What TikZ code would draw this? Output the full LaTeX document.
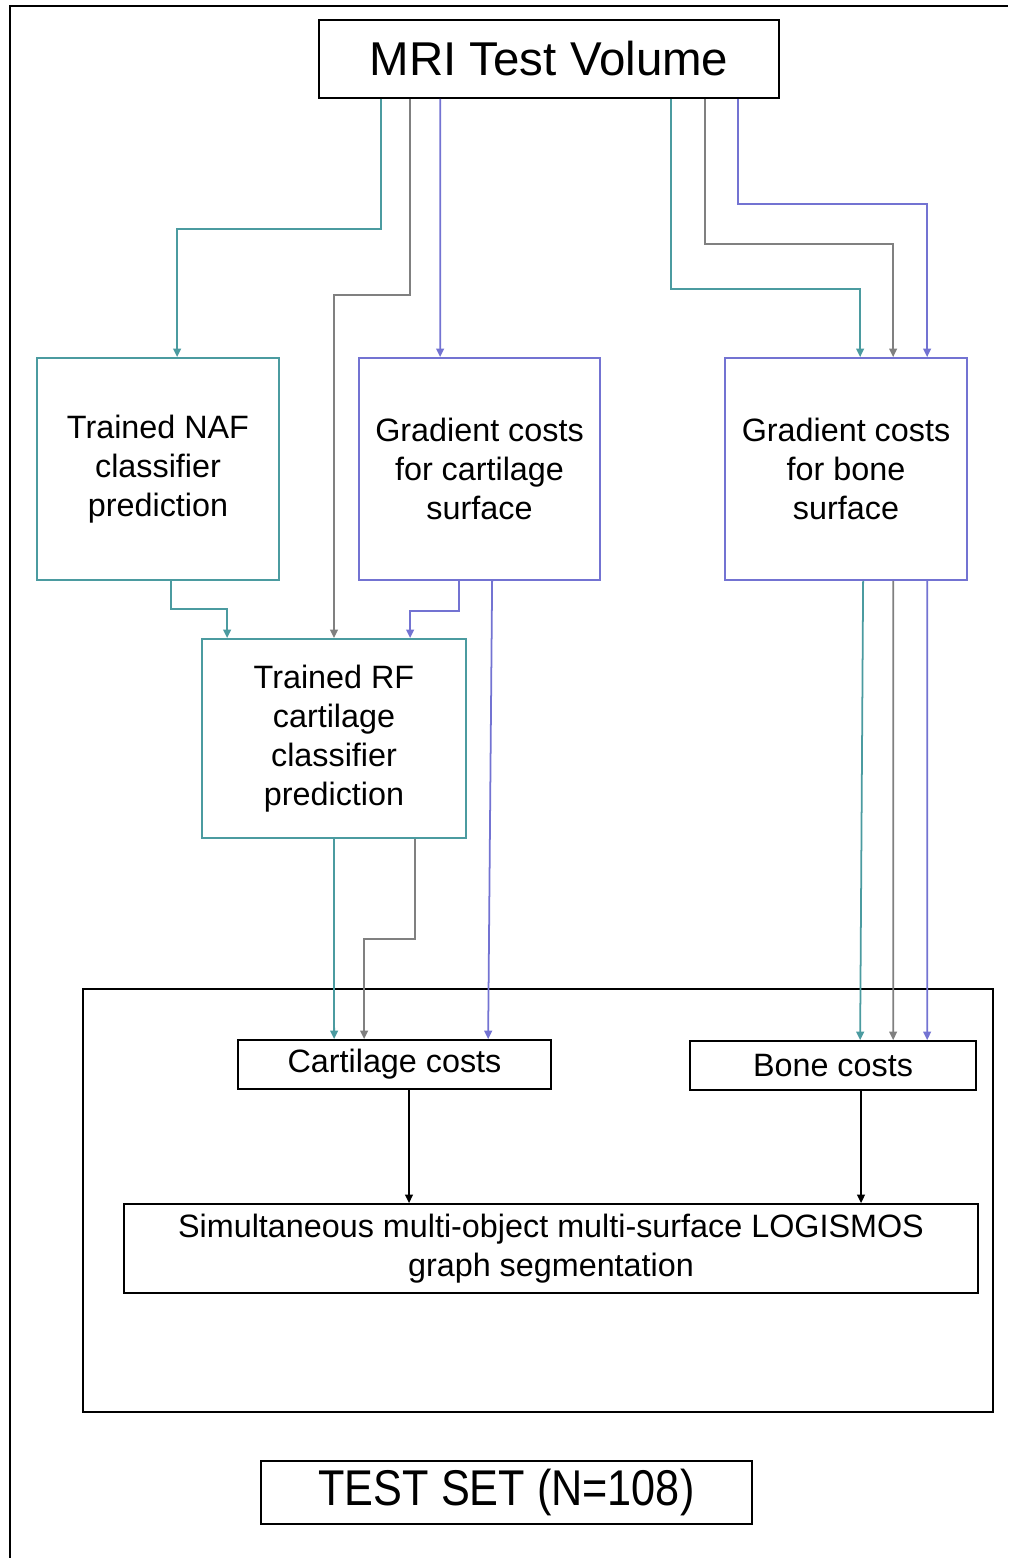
\documentclass[tikz,border=0pt]{standalone}
\usepackage{fontspec}
\setmainfont{Liberation Sans}
\usetikzlibrary{arrows.meta}
\definecolor{tealc}{RGB}{75,155,160}
\definecolor{greyc}{RGB}{128,128,128}
\definecolor{violc}{RGB}{115,115,210}
\begin{document}
\begin{tikzpicture}[x=0.1mm, y=-0.1mm,
    box/.style={draw, line width=0.5pt, inner sep=0pt, align=center,
        font=\fontsize{9.2}{11.1}\selectfont},
    link/.style={line width=0.5pt, -{Triangle[width=2.2pt,length=2.4pt]}}]
    \useasboundingbox (0,0) rectangle (1008,1558);
    % frames
    \draw[line width=0.5pt] (10,1558) -- (10,6) -- (1008,6);
    \draw[line width=0.5pt] (83,989) rectangle (993,1412);

    % boxes
    \node[box, minimum width=46mm, minimum height=7.8mm, font=\fontsize{13.5}{16}\selectfont] (mri) at (549,59) {MRI Test Volume};
    \node[box, draw=tealc, minimum width=24.2mm, minimum height=22.2mm] (naf) at (158,469) {Trained NAF\\classifier\\prediction};
    \node[box, draw=violc, minimum width=24.1mm, minimum height=22.2mm] (gcart) at (479.5,469) {Gradient costs\\for cartilage\\surface};
    \node[box, draw=violc, minimum width=24.2mm, minimum height=22.2mm] (gbone) at (846,469) {Gradient costs\\for bone\\surface};
    \node[box, draw=tealc, minimum width=26.4mm, minimum height=19.9mm] (rf) at (334,738.5) {Trained RF\\cartilage\\classifier\\prediction};
    \node[box, minimum width=31.3mm, minimum height=4.9mm] (ccost) at (394.5,1064.5) {Cartilage costs};
    \node[box, minimum width=28.6mm, minimum height=4.9mm] (bcost) at (833,1065.5) {Bone costs};
    \node[box, minimum width=85.4mm, minimum height=8.9mm] (logis) at (551,1248.5) {Simultaneous multi-object multi-surface LOGISMOS\\graph segmentation};
    \node[box, minimum width=49.1mm, minimum height=6.3mm, font=\fontsize{14.3}{17}\selectfont] (test) at (506.5,1492.5) {\scalebox{0.86}[1]{TEST SET (N=108)}};

    % from the volume
    \draw[link, tealc] ([xshift=6.3mm]mri.south west) -- ++(0,130) -| ([xshift=14.1mm]naf.north west);
    \draw[link, greyc] ([xshift=9.2mm]mri.south west) -- ++(0,196) -| (rf.north);
    \draw[link, violc] ([xshift=12.2mm]mri.south west) -- ([xshift=8.2mm]gcart.north west);
    \draw[link, tealc] ([xshift=35.3mm]mri.south west) -- ++(0,190) -| ([xshift=13.6mm]gbone.north west);
    \draw[link, greyc] ([xshift=38.7mm]mri.south west) -- ++(0,145) -| ([xshift=16.9mm]gbone.north west);
    \draw[link, violc] ([xshift=42mm]mri.south west) -- ++(0,105) -| ([xshift=20.3mm]gbone.north west);

    % into the RF classifier
    \draw[link, tealc] ([xshift=13.5mm]naf.south west) -- ++(0,28) -| ([xshift=2.6mm]rf.north west);
    \draw[link, violc] ([xshift=10.1mm]gcart.south west) -- ++(0,30) -| ([xshift=20.9mm]rf.north west);

    % cost inputs
    \draw[link, violc] ([xshift=13.4mm]gcart.south west) -- ([xshift=25.1mm]ccost.north west);
    \draw[link, tealc] (rf.south) -- ([xshift=9.7mm]ccost.north west);
    \draw[link, greyc] ([xshift=21.4mm]rf.south west) -- ++(0,100) -| ([xshift=12.7mm]ccost.north west);
    \draw[link, tealc] ([xshift=13.9mm]gbone.south west) -- ([xshift=17.1mm]bcost.north west);
    \draw[link, greyc] ([xshift=16.9mm]gbone.south west) -- ([xshift=20.4mm]bcost.north west);
    \draw[link, violc] ([xshift=20.3mm]gbone.south west) -- ([xshift=23.8mm]bcost.north west);

    % segmentation
    \draw[link] ([xshift=1.45mm]ccost.south) -- ([xshift=-14.2mm]logis.north);
    \draw[link] ([xshift=2.8mm]bcost.south) -- ([xshift=31mm]logis.north);
\end{tikzpicture}
\end{document}
